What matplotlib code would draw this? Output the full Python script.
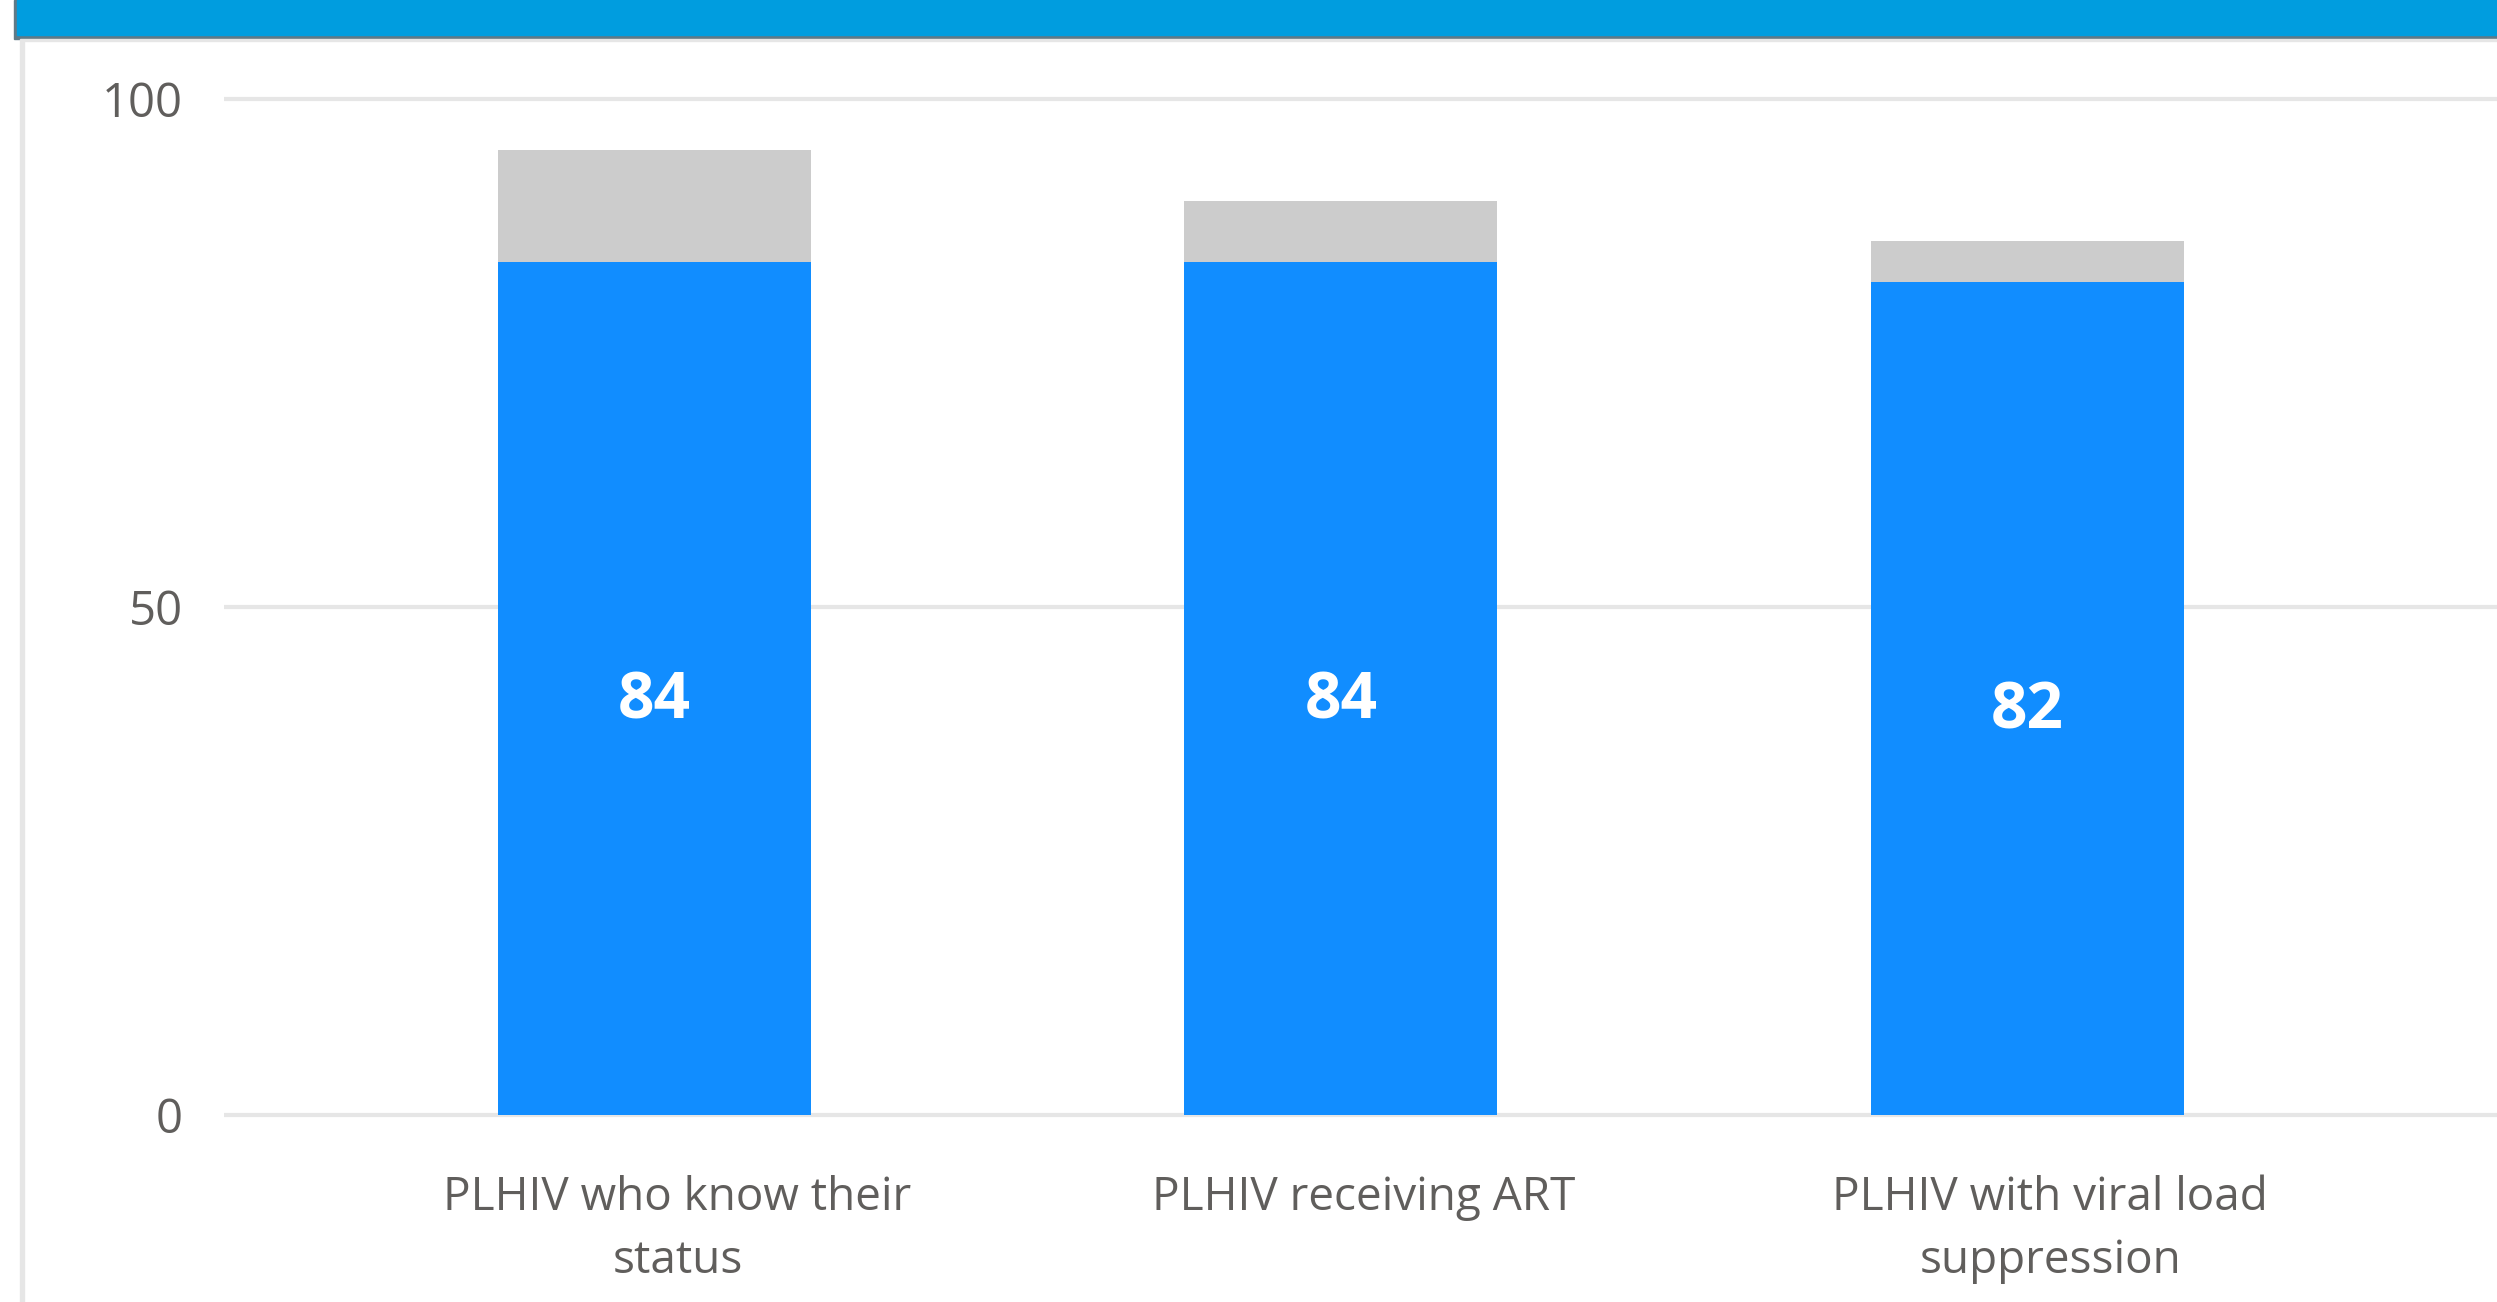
import matplotlib
matplotlib.use("Agg")
import matplotlib.pyplot as plt
import matplotlib.transforms as mtransforms
from matplotlib.patches import Rectangle

# ── data ─────────────────────────────────────────────────────────────────────
categories = ["PLHIV who know their\nstatus",
              "PLHIV receiving ART",
              "PLHIV with viral load\nsuppression"]
achieved = [84, 84, 82]
gap      = [11, 6, 4]
y_ticks  = [0, 50, 100]

BLUE   = "#118DFF"
GREY   = "#CCCCCC"
TEXT   = "#605E5C"
GRID   = "#E6E6E6"

plt.rcParams["font.family"] = ["Open Sans", "DejaVu Sans"]

W, H = 2497, 1302
fig = plt.figure(figsize=(W / 100, H / 100), dpi=100)
fig.patch.set_facecolor("white")

# ── header band and frame ────────────────────────────────────────────────────
fig.patches.append(Rectangle((14 / W, 1 - 39 / H), 1, 39 / H,
                             transform=fig.transFigure, color="#5F7A87", zorder=0))
fig.patches.append(Rectangle((17 / W, 1 - 35 / H), 1, 35 / H,
                             transform=fig.transFigure, color="#009DDF", zorder=1))
fig.patches.append(Rectangle((20 / W, 1 - 41 / H), 1, 2 / H,
                             transform=fig.transFigure, color="#E6E6E6", zorder=1))
fig.patches.append(Rectangle((20 / W, 0), 4 / W, 1 - 41 / H,
                             transform=fig.transFigure, color="#E6E6E6", zorder=1))

# ── axes ─────────────────────────────────────────────────────────────────────
ax = fig.add_axes([224 / W, 0.1359, 1 - 224 / W, 0.7957])
x = range(len(categories))
ax.bar(x, achieved, width=0.456, color=BLUE, zorder=3)
ax.bar(x, gap, width=0.456, bottom=achieved, color=GREY, zorder=3)

for i, v in enumerate(achieved):
    ax.annotate(str(v), (i, v / 2), xytext=(0, -10), textcoords="offset points",
                ha="center", va="center", color="white",
                fontsize=46, fontweight="bold", zorder=4)

ax.set_xlim(-0.627, 2.684)
ax.set_ylim(-1, 101)
ax.set_yticks(y_ticks)
ax.set_yticklabels([str(t) for t in y_ticks])
ax.set_xticks(list(x))
ax.set_xticklabels(categories, linespacing=1.48, fontsize=33)
ax.tick_params(axis="both", length=0, labelsize=34, labelcolor=TEXT)
ax.tick_params(axis="y", pad=29.5)
ax.tick_params(axis="x", pad=36, labelsize=33)

# x labels sit slightly right of the bar centres
offset = mtransforms.ScaledTranslation(23 / 100, 0, fig.dpi_scale_trans)
for lbl in ax.get_xticklabels():
    lbl.set_transform(lbl.get_transform() + offset)

ax.grid(True, axis="y", color=GRID, linewidth=3, zorder=0)
ax.grid(False, axis="x")
for s in ax.spines.values():
    s.set_visible(False)

plt.savefig("out.png", dpi=100)
